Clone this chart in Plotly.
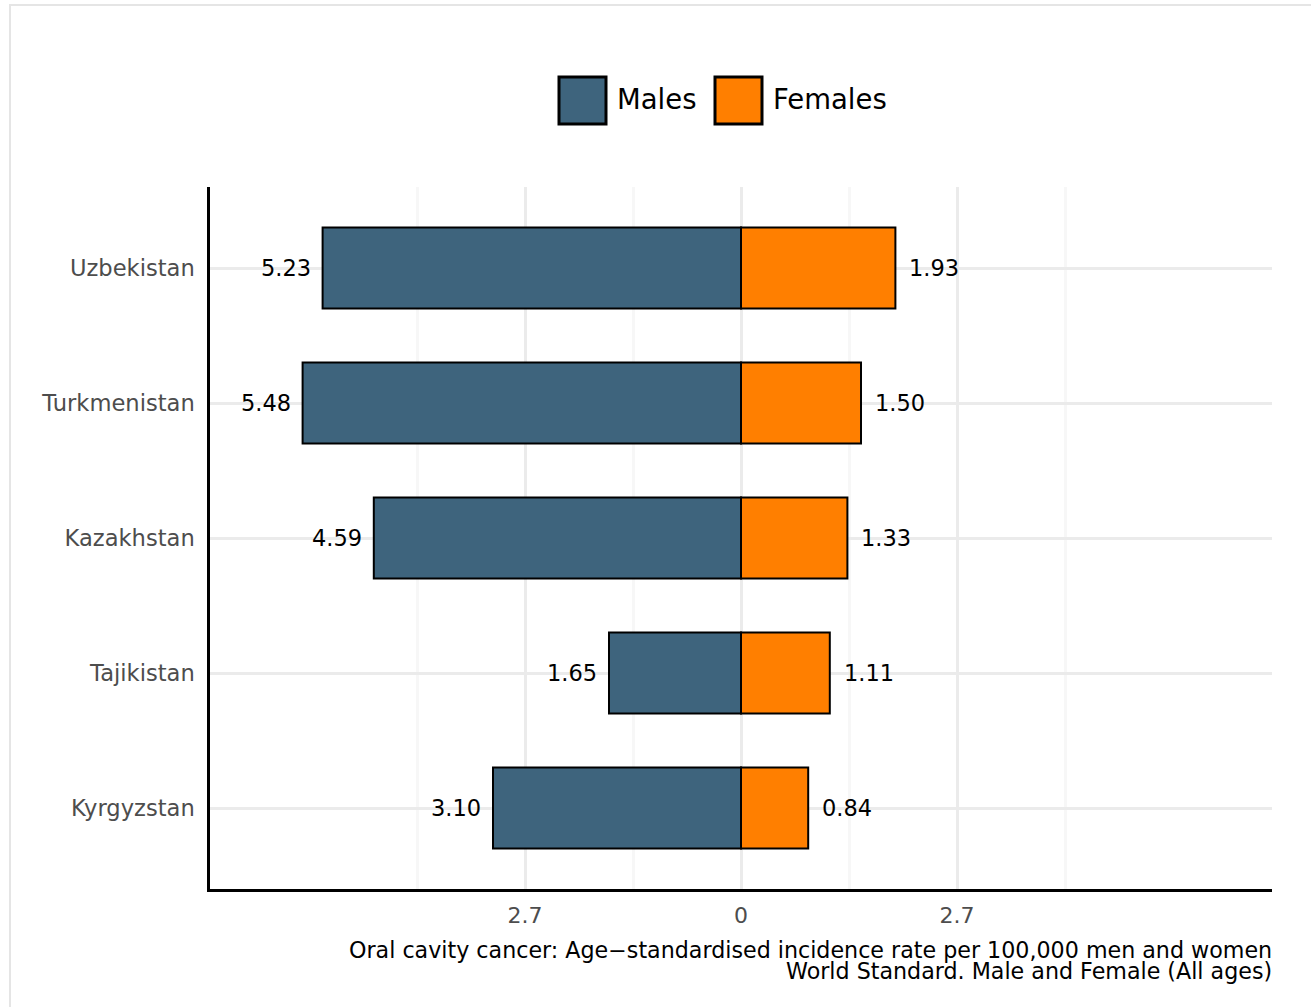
import plotly.graph_objects as go

countries = ["Kyrgyzstan", "Tajikistan", "Kazakhstan", "Turkmenistan", "Uzbekistan"]
males = [3.10, 1.65, 4.59, 5.48, 5.23]
females = [0.84, 1.11, 1.33, 1.50, 1.93]
tick_vals = [-2.7, 0, 2.7]
tick_text = ["2.7", "0", "2.7"]
minor_vals = [-4.05, -1.35, 1.35, 4.05]

MALE_COLOR = "#3E647D"
FEMALE_COLOR = "#FF7F00"
FONT = "DejaVu Sans"

W, H = 1311, 1007
L, R, T, B = 210, 1272, 187, 889


def px(xp):
    return (xp - L) / (R - L)


def py(yp):
    return (B - yp) / (B - T)


fig = go.Figure()
fig.add_trace(go.Bar(
    y=countries, x=[-v for v in males], orientation="h", width=0.6,
    marker=dict(color=MALE_COLOR, line=dict(color="black", width=2)),
    name="Males", showlegend=False, hoverinfo="skip"))
fig.add_trace(go.Bar(
    y=countries, x=females, orientation="h", width=0.6,
    marker=dict(color=FEMALE_COLOR, line=dict(color="black", width=2)),
    name="Females", showlegend=False, hoverinfo="skip"))

annotations = []
for c, m, f in zip(countries, males, females):
    annotations.append(dict(x=-m, y=c, xref="x", yref="y", text=f"{m:.2f}",
                            showarrow=False, xanchor="right", xshift=-10,
                            font=dict(family=FONT, size=22.5, color="black")))
    annotations.append(dict(x=f, y=c, xref="x", yref="y", text=f"{f:.2f}",
                            showarrow=False, xanchor="left", xshift=12,
                            font=dict(family=FONT, size=22.5, color="black")))

annotations.append(dict(x=1, y=py(950), xref="paper", yref="paper", xshift=2,
                        text="Oral cavity cancer: Age\u2212standardised incidence rate per 100,000 men and women",
                        showarrow=False, xanchor="right", yanchor="middle",
                        font=dict(family=FONT, size=22.2, color="black")))
annotations.append(dict(x=1, y=py(971), xref="paper", yref="paper", xshift=2,
                        text="World Standard. Male and Female (All ages)",
                        showarrow=False, xanchor="right", yanchor="middle",
                        font=dict(family=FONT, size=22.2, color="black")))

# manual legend
annotations.append(dict(x=px(615), y=py(99), xref="paper", yref="paper", text="Males",
                        showarrow=False, xanchor="left", yanchor="middle",
                        font=dict(family=FONT, size=27.5, color="black")))
annotations.append(dict(x=px(771), y=py(99), xref="paper", yref="paper", text="Females",
                        showarrow=False, xanchor="left", yanchor="middle",
                        font=dict(family=FONT, size=27.5, color="black")))

shapes = [
    dict(type="rect", xref="paper", yref="paper", x0=px(10), x1=px(1325), y0=py(1015), y1=py(5),
         line=dict(color="#e5e5e5", width=2), fillcolor="rgba(0,0,0,0)", layer="below"),
    dict(type="rect", xref="paper", yref="paper", x0=px(559), x1=px(606), y0=py(124), y1=py(77),
         line=dict(color="black", width=3), fillcolor=MALE_COLOR),
    dict(type="rect", xref="paper", yref="paper", x0=px(715), x1=px(762), y0=py(124), y1=py(77),
         line=dict(color="black", width=3), fillcolor=FEMALE_COLOR),
]

fig.update_layout(
    width=W, height=H, autosize=False,
    margin=dict(l=L, r=W - R, t=T, b=H - B, pad=0),
    plot_bgcolor="white", paper_bgcolor="white",
    barmode="overlay", bargap=0.4,
    font=dict(family=FONT),
    annotations=annotations, shapes=shapes,
    xaxis=dict(range=[-6.6375, 6.6375], tickvals=tick_vals, ticktext=tick_text,
               showgrid=True, gridcolor="#ebebeb", gridwidth=2.5, zeroline=False,
               showline=True, linecolor="black", linewidth=2.5,
               ticks="", ticklabelstandoff=5,
               tickfont=dict(family=FONT, size=22, color="#4d4d4d"),
               minor=dict(tickvals=minor_vals, showgrid=True, gridcolor="#f7f7f7", gridwidth=2.5, ticks=""),
               fixedrange=True),
    yaxis=dict(type="category", categoryorder="array", categoryarray=countries,
               range=[-0.6, 4.6], showgrid=True, gridcolor="#ebebeb", gridwidth=2.5,
               zeroline=False, showline=True, linecolor="black", linewidth=2.5,
               ticks="", ticklabelstandoff=8,
               tickfont=dict(family=FONT, size=22.6, color="#4d4d4d"),
               fixedrange=True),
)

fig.write_html("out.html", config={"displayModeBar": False},
               post_script="document.body.style.margin='0';document.body.style.overflow='hidden';")
